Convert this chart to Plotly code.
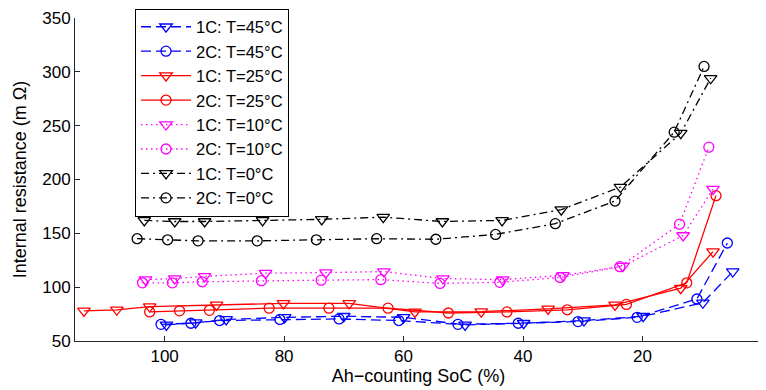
import plotly.graph_objects as go

# ---- data ----
soc_1c_45 = [99.7, 94.8, 89.7, 79.9, 70.0, 60.0, 49.7, 39.9, 29.8, 19.9, 9.9, 4.9]
r_1c_45 = [65, 67, 70, 72, 73, 72, 65, 66.5, 69, 73, 85.5, 114.5]
soc_2c_45 = [100.6, 95.6, 90.8, 80.7, 70.8, 60.8, 50.9, 40.8, 30.8, 20.9, 10.9, 5.8]
r_2c_45 = [65.5, 66.5, 69, 70, 70.5, 69, 65.5, 66.5, 68, 72, 89, 141]

soc_1c_25 = [113.5, 108, 102.5, 91.3, 80.1, 69.1, 58.1, 47, 35.8, 24.6, 13.6, 8.2]
r_1c_25 = [78, 79, 82, 83.5, 85, 85, 77, 77.3, 79.8, 83.5, 99, 133]
soc_2c_25 = [102.5, 97.5, 92.5, 82.5, 72.5, 62.6, 52.5, 42.7, 32.6, 22.7, 12.6, 7.7]
r_2c_25 = [77, 78, 78.5, 80.5, 80.5, 80.5, 76, 77, 79, 84, 104, 185]

soc_1c_10 = [103.2, 98.3, 93.3, 83.1, 73.0, 63.3, 53.4, 43.4, 33.3, 23.3, 13.2, 8.2]
r_1c_10 = [107, 108, 110, 113, 113.5, 114.5, 108, 107, 111, 119.5, 148, 191]
soc_2c_10 = [103.7, 98.7, 93.7, 83.8, 73.8, 63.8, 53.9, 43.9, 33.8, 23.8, 13.8, 8.9]
r_2c_10 = [104, 104, 105, 106, 106.5, 107, 103.5, 104.5, 109, 119, 158.5, 230]

soc_1c_0 = [103.4, 98.3, 93.3, 83.6, 73.7, 63.4, 53.5, 43.5, 33.6, 23.7, 13.6, 8.6]
r_1c_0 = [162, 161, 161, 162, 163, 165, 161, 162, 172, 193, 243, 294]
soc_2c_0 = [104.6, 99.5, 94.4, 84.5, 74.6, 64.5, 54.6, 44.6, 34.6, 24.6, 14.7, 9.7]
r_2c_0 = [145, 144, 143, 143, 144, 145, 144.5, 149, 159, 180, 244, 305]

x_ticks = [0, 20, 40, 60, 80, 100]
y_ticks = [50, 100, 150, 200, 250, 300, 350]

FONT = "Liberation Sans, Arial, sans-serif"

series = [
    ("1C: T=45°C", soc_1c_45, r_1c_45, "#0000ff", "10px,5px", "triangle-down-open"),
    ("2C: T=45°C", soc_2c_45, r_2c_45, "#0000ff", "10px,5px", "circle-open"),
    ("1C: T=25°C", soc_1c_25, r_1c_25, "#ff0000", "solid", "triangle-down-open"),
    ("2C: T=25°C", soc_2c_25, r_2c_25, "#ff0000", "solid", "circle-open"),
    ("1C: T=10°C", soc_1c_10, r_1c_10, "#ff00ff", "1.5px,3.5px", "triangle-down-open"),
    ("2C: T=10°C", soc_2c_10, r_2c_10, "#ff00ff", "1.5px,3.5px", "circle-open"),
    ("1C: T=0°C", soc_1c_0, r_1c_0, "#000000", "8px,4px,2px,4px", "triangle-down-open"),
    ("2C: T=0°C", soc_2c_0, r_2c_0, "#000000", "8px,4px,2px,4px", "circle-open"),
]

fig = go.Figure()
for name, xs, ys, col, dash, sym in series:
    fig.add_trace(go.Scatter(
        x=xs, y=ys, name=name, mode="lines+markers",
        line=dict(color=col, width=1.3, dash=dash),
        marker=dict(symbol=sym, size=11 if "triangle" in sym else 10,
                    color=col, line=dict(color=col, width=1.3)),
    ))

# page body has an 8px margin; figure occupies page px 8..766 x 8..390
W, H = 758, 382
L, R, B = 67, 4, 49
H_PAPER = H - B            # paper area height (top margin 0)
PLOT_TOP = 10              # plot area top within figure
fig.update_layout(
    width=W, height=H,
    margin=dict(l=L, r=R, t=0, b=B, autoexpand=False),
    paper_bgcolor="white", plot_bgcolor="white",
    font=dict(family=FONT, size=17, color="black"),
    showlegend=True,
    legend=dict(
        x=(127 - L) / (W - L - R), y=(H_PAPER - 0.5) / H_PAPER,
        xanchor="left", yanchor="top",
        bgcolor="white", bordercolor="black", borderwidth=1,
        font=dict(family=FONT, size=16.5, color="black"),
        tracegroupgap=0, maxheight=1.0, itemwidth=50,
    ),
)
fig.update_xaxes(
    range=[115, 0], tickvals=x_ticks, ticktext=[str(v) for v in x_ticks],
    ticks="inside", ticklen=5, tickwidth=1, tickcolor="#262626",
    showline=True, linecolor="#262626", linewidth=1,
    showgrid=False, zeroline=False, automargin=False,
    title=dict(text="Ah\u2212counting SoC (%)", font=dict(size=18), standoff=2),
    tickfont=dict(size=17),
)
fig.update_yaxes(
    domain=[0, (H_PAPER - PLOT_TOP) / H_PAPER],
    range=[50, 350], tickvals=y_ticks, ticktext=[str(v) for v in y_ticks],
    ticks="inside", ticklen=5, tickwidth=1, tickcolor="#262626",
    showline=True, linecolor="#262626", linewidth=1,
    showgrid=False, zeroline=False, automargin=False,
    title=dict(text="Internal resistance (m \u03a9)", font=dict(size=18), standoff=10),
    tickfont=dict(size=17),
)

fig.write_html("out.html")
